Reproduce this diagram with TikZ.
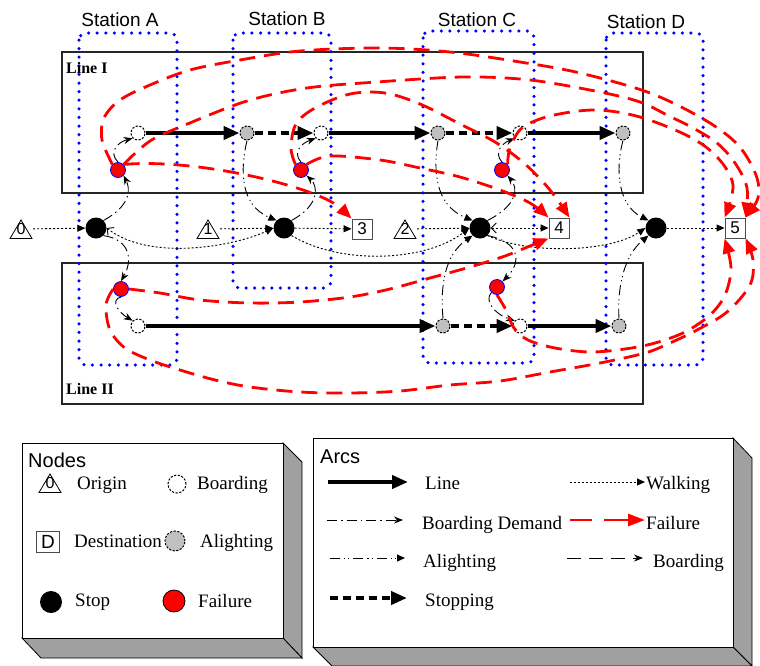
\documentclass[tikz,border=0pt]{standalone}
\usepackage{fontspec}
\setmainfont{Liberation Serif}
\setsansfont{Liberation Sans}
\usetikzlibrary{arrows.meta}
\definecolor{boxgray}{RGB}{160,160,160}
\definecolor{aligray}{RGB}{192,192,192}
\begin{document}
\begin{tikzpicture}[x=1pt,y=-1pt,
  stat/.style={draw=blue, line width=3.5pt, dash pattern=on 0pt off 8.6pt, line cap=round, rounded corners=7pt},
  linebox/.style={draw=black!85, line width=1.1pt},
  stlab/.style={font=\sffamily\fontsize{19}{22}\selectfont, inner sep=0pt},
  linelab/.style={font=\bfseries\fontsize{16}{18}\selectfont, inner sep=0pt, anchor=west},
  boardn/.style={circle, draw, fill=white, dash pattern=on 2.2pt off 1.5pt, line width=1pt, minimum size=14pt, inner sep=0pt},
  alightn/.style={boardn, fill=aligray},
  stopn/.style={circle, fill=black, minimum size=21pt, inner sep=0pt},
  failn/.style={circle, fill=red, draw=blue, line width=0.8pt, minimum size=15pt, inner sep=0pt},
  destn/.style={draw=black!70, line width=0.9pt, minimum width=20pt, minimum height=20pt, inner sep=0pt, font=\sffamily\fontsize{17}{17}\selectfont},
  orign/.style={minimum width=24pt, minimum height=21pt, inner sep=0pt, font=\sffamily\fontsize{16}{16}\selectfont,
    path picture={\draw[line width=0.8pt] ([shift={(1pt,1pt)}]path picture bounding box.south west) -- ([shift={(-1pt,1pt)}]path picture bounding box.south east) -- ([shift={(0pt,-1.5pt)}]path picture bounding box.north) -- cycle;}},
  linearc/.style={line width=4.5pt, -{Triangle[length=16pt,width=13pt]}},
  stoparc/.style={line width=4pt, dash pattern=on 8pt off 5pt, -{Triangle[length=16pt,width=13pt]}},
  walkarc/.style={line width=0.9pt, dash pattern=on 2pt off 2pt, -{Triangle[length=8pt,width=7pt]}},
  bdarc/.style={line width=0.9pt, dash pattern=on 10pt off 4pt on 1.5pt off 4pt, -{Stealth[length=9pt,width=7pt]}},
  aliarc/.style={line width=0.9pt, dash pattern=on 10pt off 4pt on 1.2pt off 3pt on 1.2pt off 4pt, -{Triangle[length=8pt,width=7pt]}},
  boardarc/.style={line width=0.9pt, dash pattern=on 14pt off 8pt, -{Stealth[length=9pt,width=7pt]}},
  failarc/.style={draw=red, line width=2.8pt, dash pattern=on 16pt off 9pt, -{Triangle[length=15pt,width=12pt]}},
  sbarb/.style={{Straight Barb[length=5pt,width=10pt]}-{Triangle[length=8pt,width=7pt]}},
  legtxt/.style={font=\fontsize{19}{22}\selectfont, inner sep=0pt, anchor=base west},
  leghead/.style={font=\sffamily\fontsize{20}{22}\selectfont, inner sep=0pt, anchor=base west},
  shade/.style={fill=boxgray, draw=black, line width=0.8pt}
]
\useasboundingbox (0,0) rectangle (760,665);

% ---------- frames ----------
\draw[linebox] (62,52) rectangle (643,193);
\draw[linebox] (62,263) rectangle (643,404);
\draw[stat] (79,33) rectangle (177,365);
\draw[stat] (233,33) rectangle (331,288);
\draw[stat] (423,31) rectangle (534,363);
\draw[stat] (606,33) rectangle (703,365);

\node[stlab] (labA) at (120,20) {Station A};
\node[stlab] (labB) at (287,19) {Station B};
\node[stlab] (labC) at (477,20) {Station C};
\node[stlab] (labD) at (646,22) {Station D};
\node[linelab] (labL1) at (66,68) {Line I};
\node[linelab] (labL2) at (66,389) {Line II};

% ---------- nodes ----------
\node[boardn]  (bA1) at (138,133) {};
\node[alightn] (aB1) at (247,133) {};
\node[boardn]  (bB1) at (321,133) {};
\node[alightn] (aC1) at (438,133) {};
\node[boardn]  (bC1) at (520,133) {};
\node[alightn] (aD1) at (623,133) {};
\node[failn] (fA1) at (118,170) {};
\node[failn] (fB1) at (301,170) {};
\node[failn] (fC1) at (502,170) {};

\node[orign] (o0) at (21,229) {0};
\node[stopn] (sA) at (96,228) {};
\node[orign] (o1) at (208,229) {1};
\node[stopn] (sB) at (284,228) {};
\node[destn] (d3) at (362,229) {3};
\node[orign] (o2) at (405,229) {2};
\node[stopn] (sC) at (480,228) {};
\node[destn] (d4) at (559,228) {4};
\node[stopn] (sD) at (656,228) {};
\node[destn] (d5) at (735,228) {5};

\node[failn]   (fA2) at (121,289) {};
\node[boardn]  (bA2) at (138,326) {};
\node[alightn] (aC2) at (443,326) {};
\node[failn]   (fC2) at (497,287) {};
\node[boardn]  (bC2) at (520,326) {};
\node[alightn] (aD2) at (619,326) {};

% ---------- black arcs ----------
\draw[linearc] (bA1) -- (aB1);
\draw[linearc] (bB1) -- (aC1);
\draw[linearc] (bC1) -- (aD1);
\draw[linearc] (bA2) -- (aC2);
\draw[linearc] (bC2) -- (aD2);
\draw[stoparc] (aB1) -- (bB1);
\draw[stoparc] (aC1) -- (bC1);
\draw[stoparc] (aC2) -- (bC2);

\draw[walkarc] (o0) -- (sA);
\draw[walkarc] (o1) -- (sB);
\draw[walkarc] (sB) -- (d3);
\draw[walkarc] (o2) -- (sC);
\draw[walkarc,sbarb] (sC) -- (d4);
\draw[walkarc] (sD) -- (d5);
\draw[walkarc,sbarb] (sA.east) .. controls (150,262) and (235,246) .. (sB.west);
\draw[walkarc] (sB.south east) .. controls (340,265) and (425,262) .. (sC.west);
\draw[walkarc] (sC.south east) .. controls (530,255) and (610,252) .. (sD.west);

\draw[aliarc] (aB1.south) .. controls (240,170) and (240,205) .. (sB.north west);
\draw[aliarc] (aC1.south) .. controls (433,170) and (435,205) .. (sC.north west);
\draw[aliarc] (aD1.south) .. controls (615,170) and (618,205) .. (sD.north west);
\draw[aliarc] (aC2.north) .. controls (440,285) and (445,255) .. (sC.south west);
\draw[aliarc] (aD2.north) .. controls (617,285) and (625,255) .. (sD.south west);

\draw[bdarc] (sA.north east) .. controls (132,205) and (130,188) .. (fA1.south east);
\draw[bdarc] (fA1.north) .. controls (108,152) and (118,142) .. (bA1.south west);
\draw[bdarc] (sB.north east) .. controls (320,205) and (318,186) .. (fB1.south east);
\draw[bdarc] (fB1.north) .. controls (292,152) and (302,143) .. (bB1.south west);
\draw[bdarc] (sC.north east) .. controls (518,205) and (518,188) .. (fC1.south east);
\draw[bdarc] (fC1.north) .. controls (493,152) and (503,143) .. (bC1.south west);
\draw[bdarc] (sA.south east) .. controls (132,240) and (132,262) .. (fA2.north);
\draw[bdarc] (fA2.south) .. controls (110,300) and (118,312) .. (bA2.north west);
\draw[bdarc] (sC.south east) .. controls (520,242) and (522,262) .. (fC2.north east);
\draw[bdarc] (fC2.south west) .. controls (484,300) and (494,314) .. (bC2.north west);

% ---------- failure arcs ----------
\draw[failarc] (fA1.north east) .. controls (200,158) and (320,188) .. (d3.north west);
\draw[failarc] plot[smooth, tension=0.55] coordinates {(fA1.north west) (102,140) (104,118) (120,100) (150,85) (190,70) (240,60) (300,51) (380,48) (450,52) (520,62) (580,73) (650,93) (705,120) (738,145) (756,175) (758,198) (d5.north east)};
\draw[failarc] plot[smooth, tension=0.55] coordinates {(fA1.north east) (150,141) (185,125) (247,101) (307,88) (377,82) (463,77) (530,80) (600,92) (640,102) (667,115) (693,128) (717,143) (735,163) (747,188) (d5.north east)};
\draw[failarc] plot[smooth, tension=0.55] coordinates {(fB1.north west) (291,148) (296,124) (315,108) (350,94) (385,93) (420,104) (460,124) (495,142) (525,164) (550,190) (d4.north east)};
\draw[failarc] plot[smooth, tension=0.55] coordinates {(fB1.north east) (330,156) (380,160) (420,168) (460,177) (500,190) (530,203) (d4.north west)};
\draw[failarc] plot[smooth, tension=0.55] coordinates {(fC1.north east) (510,148) (522,128) (550,116) (595,110) (640,117) (690,137) (718,158) (733,185) (d5.north west)};
\draw[failarc] plot[smooth, tension=0.55] coordinates {(fA2.east) (160,293) (200,300) (250,303) (300,302) (350,297) (390,289) (430,278) (470,267) (505,256) (530,246) (d4.south west)};
\draw[failarc] plot[smooth, tension=0.55] coordinates {(fA2.west) (106,305) (110,330) (125,348) (150,360) (180,370) (215,380) (250,387) (300,392) (350,393) (400,391) (450,385) (500,381) (550,372) (600,363) (645,353) (670,343) (697,330) (727,312) (750,285) (753,260) (d5.south east)};
\draw[failarc] plot[smooth, tension=0.55] coordinates {(fC2.south) (506,310) (514,328) (528,340) (555,348) (590,352) (625,349) (655,343) (685,332) (710,315) (725,295) (731,268) (d5.south west)};

% ---------- legend: nodes ----------
\draw[shade] (283,443) -- (302,462) -- (302,658) -- (283,638) -- cycle;
\draw[shade] (22,638) -- (283,638) -- (302,658) -- (41,658) -- cycle;
\draw[fill=white, draw=black, line width=0.8pt] (22,443) rectangle (283,638);
\node[leghead] (lnodes) at (28,467) {Nodes};
\node[orign] (lo) at (50,483) {0};
\node[legtxt] (lto) at (77,489) {Origin};
\node[boardn, minimum size=18pt] (lb) at (177,484) {};
\node[legtxt] (ltb) at (197,489) {Boarding};
\node[destn, minimum width=23pt, minimum height=21pt, font=\sffamily\fontsize{19}{19}\selectfont] (ld) at (48,542) {D};
\node[legtxt] (ltd) at (74,547) {Destination};
\node[alightn, minimum size=20pt] (la) at (175,541) {};
\node[legtxt] (lta) at (200,547) {Alighting};
\node[stopn, minimum size=22pt] (ls) at (51,602) {};
\node[legtxt] (lts) at (75,606) {Stop};
\node[failn, draw=black, minimum size=22pt] (lf) at (174,601) {};
\node[legtxt] (ltf) at (198,607) {Failure};

% ---------- legend: arcs ----------
\draw[shade] (733,438) -- (752,458) -- (752,666) -- (733,647) -- cycle;
\draw[shade] (313,647) -- (733,647) -- (752,666) -- (332,666) -- cycle;
\draw[fill=white, draw=black, line width=0.8pt] (313,438) rectangle (733,647);
\node[leghead] (larcs) at (320,463) {Arcs};

\coordinate (k1a) at (328,482); \coordinate (k1b) at (408,482);
\coordinate (k2a) at (570,482); \coordinate (k2b) at (645,482);
\coordinate (k3a) at (327,520); \coordinate (k3b) at (403,520);
\coordinate (k4a) at (570,520); \coordinate (k4b) at (592,520);
\coordinate (k4c) at (604,520); \coordinate (k4d) at (645,520);
\coordinate (k5a) at (330,558); \coordinate (k5b) at (405,558);
\coordinate (k6a) at (567,558); \coordinate (k6b) at (643,558);
\coordinate (k7a) at (330,598); \coordinate (k7b) at (407,598);

\draw[linearc] (k1a) -- (k1b);
\draw[walkarc] (k2a) -- (k2b);
\draw[bdarc] (k3a) -- (k3b);
\draw[red, line width=2.8pt] (k4a) -- (k4b);
\draw[red, line width=2.8pt, -{Triangle[length=17pt,width=12pt]}] (k4c) -- (k4d);
\draw[aliarc] (k5a) -- (k5b);
\draw[boardarc] (k6a) -- (k6b);
\draw[stoparc] (k7a) -- (k7b);

\node[legtxt] (tl1) at (425,489) {Line};
\node[legtxt] (tl2) at (646,489) {Walking};
\node[legtxt] (tl3) at (422,529) {Boarding Demand};
\node[legtxt] (tl4) at (646,529) {Failure};
\node[legtxt] (tl5) at (423,567) {Alighting};
\node[legtxt] (tl6) at (653,567) {Boarding};
\node[legtxt] (tl7) at (425,606) {Stopping};
\end{tikzpicture}
\end{document}
